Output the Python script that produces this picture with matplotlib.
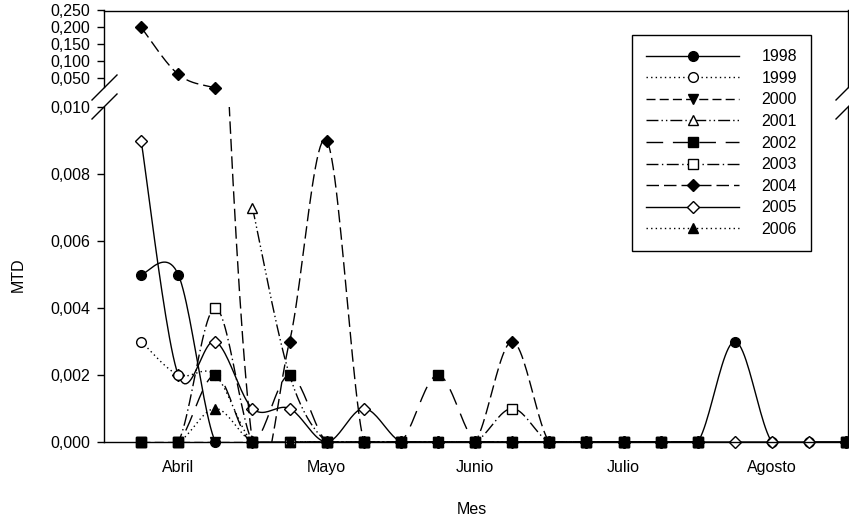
import numpy as np
import matplotlib
matplotlib.use('Agg')
import matplotlib.pyplot as plt
from matplotlib.lines import Line2D
from matplotlib.ticker import FuncFormatter

plt.rcParams['font.family'] = ['Liberation Sans', 'DejaVu Sans']
plt.rcParams['font.size'] = 11.5

nan = np.nan

# 20 muestreos semanales (abril - agosto), etiqueta de mes en la 2a semana
meses = ['Abril', 'Mayo', 'Junio', 'Julio', 'Agosto']
anios = ['1998', '1999', '2000', '2001', '2002', '2003', '2004', '2005', '2006']

# MTD por muestreo; nan = sin dato
mtd_1998 = [0.005, 0.005, 0, 0, 0, 0, 0, 0, 0, 0, 0, 0, 0, 0, 0, 0, 0.003, 0, 0, 0]
mtd_1999 = [0.003, 0.002, 0.002, 0, 0, 0, 0, 0, 0, 0, 0, 0, 0, 0, 0, 0, nan, nan, nan, 0]
mtd_2000 = [0, 0, 0, 0, 0, 0, 0, 0, 0, 0, 0, 0, 0, 0, 0, 0, nan, nan, nan, 0]
mtd_2001 = [nan, nan, nan, 0.007, 0.002, 0, 0, 0, 0, 0, 0, 0, 0, 0, 0, 0, nan, nan, nan, 0]
mtd_2002 = [0, 0, 0.002, 0, 0.002, 0, 0, 0, 0.002, 0, 0, 0, 0, 0, 0, 0, nan, nan, nan, 0]
mtd_2003 = [0, 0, 0.004, 0, 0, 0, 0, 0, 0, 0, 0.001, 0, 0, 0, 0, 0, nan, nan, nan, 0]
mtd_2004 = [0.200, 0.060, 0.020, 0, 0.003, 0.009, 0, 0, 0, 0, 0.003, 0, 0, 0, 0, 0, nan, nan, nan, 0]
mtd_2005 = [0.009, 0.002, 0.003, 0.001, 0.001, 0, 0.001, 0, 0, 0, 0, 0, 0, 0, 0, 0, 0, 0, 0, 0]
mtd_2006 = [0, 0, 0.001, 0, 0, 0, 0, 0, 0, 0, 0, 0, 0, 0, 0, 0, nan, nan, nan, 0]

series = [mtd_1998, mtd_1999, mtd_2000, mtd_2001, mtd_2002,
          mtd_2003, mtd_2004, mtd_2005, mtd_2006]

# estilo de cada anio: marcador, tamanio, relleno, trazo, orden de dibujo
estilos = [
    dict(marker='o', ms=7, mfc='black', dashes=(), z=2.0),
    dict(marker='o', ms=7, mfc='white', dashes=(1, 2.3), z=2.2),
    dict(marker='v', ms=7.5, mfc='black', dashes=(6.5, 3), z=2.4),
    dict(marker='^', ms=7.5, mfc='white', dashes=(8.6, 2.2, 1, 2.2, 1, 2.2), z=2.25),
    dict(marker='s', ms=7, mfc='black', dashes=(12, 7), z=2.5),
    dict(marker='s', ms=7, mfc='white', dashes=(8.6, 2.5, 1, 2.5), z=2.3),
    dict(marker='D', ms=6, mfc='black', dashes=(9, 3.6), z=2.6),
    dict(marker='D', ms=6, mfc='white', dashes=(), z=2.1),
    dict(marker='^', ms=7.5, mfc='black', dashes=(1, 2.3), z=2.7),
]

CORTE = 0.010  # limite entre panel inferior y superior


def suavizar(y, n=24):
    """
    Linea suavizada (tipo Excel, Catmull-Rom) entre puntos consecutivos.
    Los nan cortan la linea.
    """
    y = np.asarray(y, float)
    x = np.arange(len(y), dtype=float)
    idx = np.flatnonzero(~np.isnan(y))
    tramos = np.split(idx, np.flatnonzero(np.diff(idx) > 1) + 1)
    t = np.linspace(0, 1, n)[:, None]
    xs, ys = [], []
    for r in tramos:
        if len(r) < 2:
            continue
        P = np.column_stack([x[r], y[r]])
        Pp = np.vstack([P[0], P, P[-1]])
        curva = []
        for i in range(len(P) - 1):
            p0, p1, p2, p3 = Pp[i], Pp[i + 1], Pp[i + 2], Pp[i + 3]
            c1 = p1 + (p2 - p0) / 6
            c2 = p2 - (p3 - p1) / 6
            b = ((1 - t) ** 3 * p1 + 3 * (1 - t) ** 2 * t * c1
                 + 3 * (1 - t) * t ** 2 * c2 + t ** 3 * p2)
            curva.append(b if i == 0 else b[1:])
        curva = np.vstack(curva)
        xs.extend(curva[:, 0]); xs.append(nan)
        ys.extend(curva[:, 1]); ys.append(nan)
    return np.array(xs), np.array(ys)


W, H = 849, 518
fig = plt.figure(figsize=(W / 100, H / 100), dpi=100)


def fx(px):
    return px / W


def fy(py):
    return 1 - py / H


ax = fig.add_axes([fx(104), fy(442), fx(848) - fx(104), fy(107) - fy(442)])
ax_up = fig.add_axes([fx(104), fy(87), fx(848) - fx(104), fy(10.5) - fy(87)])

handles = []
for valores, est in zip(series, estilos):
    y = np.asarray(valores, float)
    x = np.arange(len(y))
    xs, ys = suavizar(y)
    kw_linea = dict(color='black', lw=1.0, zorder=est['z'])
    if est['dashes']:
        kw_linea['dashes'] = est['dashes']
    kw_marca = dict(ls='none', marker=est['marker'], ms=est['ms'],
                    mfc=est['mfc'], mec='black', mew=1.0,
                    clip_on=False, zorder=est['z'] + 0.01)
    for eje, mascara in ((ax, y <= CORTE), (ax_up, y > CORTE)):
        eje.plot(xs, ys, **kw_linea)
        eje.plot(x[mascara], y[mascara], **kw_marca)
    h = Line2D([], [], color='black', lw=1.0, marker=est['marker'],
               ms=est['ms'], mfc=est['mfc'], mec='black', mew=1.0)
    if est['dashes']:
        h.set_dashes(est['dashes'])
    handles.append(h)

coma = FuncFormatter(lambda v, p: f'{v:.3f}'.replace('.', ','))

n = len(mtd_1998)
for eje in (ax, ax_up):
    eje.set_xlim(-1, n - 0.95)
    eje.yaxis.set_major_formatter(coma)
    eje.tick_params(axis='y', direction='out', length=5, width=1, pad=5)
    for s in eje.spines.values():
        s.set_linewidth(1.0)
        s.set_color('black')

ax.set_ylim(0, CORTE)
ax.set_yticks(np.arange(0, CORTE + 1e-9, 0.002))
ax.spines['top'].set_visible(False)
ax.set_xticks(np.arange(len(meses)) * 4 + 1, meses)
ax.tick_params(axis='x', length=0, pad=13)
ax.set_xlabel('Mes')
ax.xaxis.set_label_coords(0.495, -0.178)
ax.set_ylabel('MTD')
ax.yaxis.set_label_coords(-0.105, 0.5)

ax_up.set_ylim(0.25 - 76.5 / 336, 0.25)
ax_up.set_yticks([0.05, 0.10, 0.15, 0.20, 0.25])
ax_up.spines['bottom'].set_visible(False)
ax_up.set_xticks([])

# marcas de corte del eje
for xc in (104, 848):
    for yc in (88, 107):
        fig.add_artist(Line2D([fx(xc - 12), fx(xc + 13)], [fy(yc + 12), fy(yc - 13)],
                              color='black', lw=1.0, transform=fig.transFigure))

fig.legend(handles, anios, loc='upper left', bbox_to_anchor=(fx(632), fy(35)),
           borderaxespad=0, frameon=True, fancybox=False, edgecolor='black',
           framealpha=1, handlelength=5.8, handletextpad=1.4, labelspacing=0.41,
           borderpad=0.9, numpoints=1)
fig.legends[0].get_frame().set_linewidth(1.0)

fig.savefig('out.png', dpi=100)
